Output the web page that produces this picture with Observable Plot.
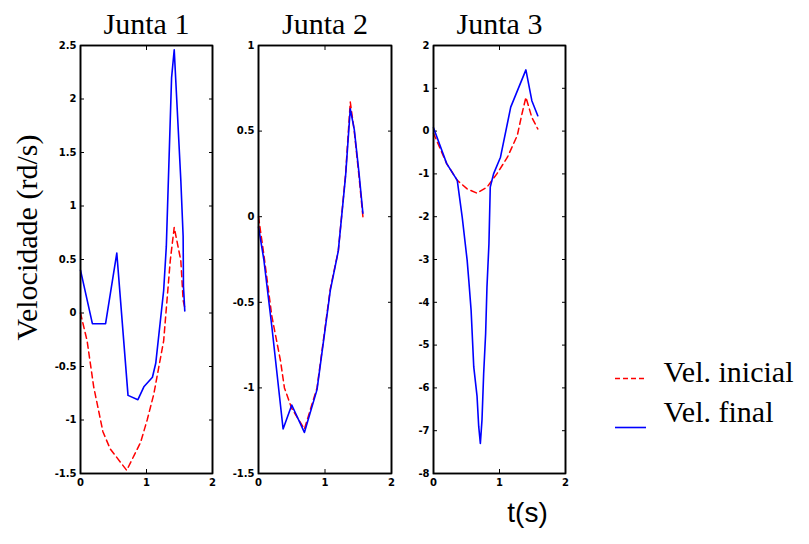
<!DOCTYPE html>
<html><head><meta charset="utf-8">
<script src="https://cdn.jsdelivr.net/npm/d3@7"></script>
<script src="https://cdn.jsdelivr.net/npm/@observablehq/plot@0.6"></script>
<style>
body{margin:0;background:#fff;}
#wrap{width:809px;height:544px;overflow:hidden;background:#fff;}
</style></head><body>
<div id="wrap"></div>
<script>
// Junta 1
const t1Init  = [0, 0.10, 0.20, 0.34, 0.45, 0.70, 0.91, 1.01, 1.11, 1.26, 1.36, 1.42, 1.52, 1.555, 1.58];
const v1Init  = [0.0, -0.26, -0.69, -1.11, -1.27, -1.47, -1.21, -1.00, -0.76, -0.26, 0.49, 0.80, 0.49, 0.12, 0.05];
const t1Final = [0, 0.18, 0.38, 0.55, 0.72, 0.87, 0.96, 1.09, 1.14, 1.26, 1.30, 1.38, 1.42, 1.52, 1.555, 1.56, 1.58];
const v1Final = [0.40, -0.10, -0.10, 0.56, -0.77, -0.81, -0.69, -0.60, -0.47, 0.21, 0.62, 2.20, 2.46, 1.24, 0.72, 0.25, 0.02];
// Junta 2
const t2Init  = [0, 0.08, 0.20, 0.33, 0.39, 0.50, 0.69, 0.88, 1.08, 1.20, 1.31, 1.38, 1.44, 1.51, 1.57];
const v2Init  = [0.0, -0.22, -0.58, -0.84, -1.00, -1.12, -1.24, -1.00, -0.42, -0.20, 0.25, 0.67, 0.50, 0.24, 0.00];
const t2Final = [0, 0.08, 0.20, 0.37, 0.50, 0.69, 0.88, 1.08, 1.20, 1.31, 1.38, 1.44, 1.51, 1.57];
const v2Final = [-0.06, -0.25, -0.64, -1.24, -1.10, -1.26, -1.01, -0.43, -0.20, 0.24, 0.63, 0.51, 0.26, 0.02];
// Junta 3
const t3Init  = [0, 0.20, 0.36, 0.51, 0.66, 0.81, 0.96, 1.12, 1.27, 1.34, 1.40, 1.49, 1.58];
const v3Init  = [-0.05, -0.76, -1.15, -1.35, -1.45, -1.31, -1.00, -0.61, -0.10, 0.40, 0.79, 0.32, 0.05];
const t3Final = [0, 0.20, 0.36, 0.435, 0.51, 0.535, 0.57, 0.61, 0.66, 0.685, 0.71, 0.735, 0.76, 0.79, 0.81, 0.84, 0.86, 0.91, 1.015, 1.17, 1.40, 1.49, 1.58];
const v3Final = [0.08, -0.76, -1.15, -2.01, -3.02, -3.49, -4.19, -5.51, -6.20, -6.90, -7.30, -6.74, -5.67, -4.73, -3.65, -2.63, -1.31, -1.00, -0.61, 0.56, 1.43, 0.71, 0.36];

const titles = ["Junta 1", "Junta 2", "Junta 3"];
const xDomain = [0, 2];
const xTicks = [0, 1, 2];
const yTicks1 = [-1.5, -1, -0.5, 0, 0.5, 1, 1.5, 2, 2.5];
const yTicks2 = [-1.5, -1, -0.5, 0, 0.5, 1];
const yTicks3 = [-8, -7, -6, -5, -4, -3, -2, -1, 0, 1, 2];
const seriesNames = ["Vel. inicial", "Vel. final"];
const yLabel = "Velocidade (rd/s)";
const xLabel = "t(s)";

const RED = "#ff0000", BLUE = "#0000ff";
const SERIF = "Liberation Serif";
const zip = (ts, vs) => ts.map((t, i) => ({t, v: vs[i]}));

// one root SVG; each Plot chart's content is moved into a translated group
const NS = "http://www.w3.org/2000/svg";
const root = document.createElementNS(NS, "svg");
root.setAttribute("width", 809);
root.setAttribute("height", 544);
root.setAttribute("viewBox", "0 0 809 544");
root.style.display = "block";
root.style.background = "#fff";
document.getElementById("wrap").appendChild(root);
function absorb(chart, left, top) {
  const g = document.createElementNS(NS, "g");
  g.setAttribute("transform", `translate(${left},${top})`);
  for (const a of ["class", "fill", "font-family", "font-size", "text-anchor", "style"]) {
    if (chart.hasAttribute(a)) g.setAttribute(a, chart.getAttribute(a));
  }
  g.style.color = "#000";
  while (chart.firstChild) g.appendChild(chart.firstChild);
  root.appendChild(g);
}

// shared axis labels
absorb(Plot.plot({
  width: 809, height: 544, margin: 0,
  style: {background: "transparent", color: "#000", fontFamily: SERIF},
  marks: [
    Plot.text([yLabel], {frameAnchor: "left", dx: 27, dy: -35, rotate: -90, textAnchor: "middle", fontSize: 30, fontFamily: SERIF, fill: "currentColor"}),
    Plot.text([xLabel], {frameAnchor: "bottom-left", dx: 527, dy: -23, textAnchor: "middle", fontSize: 28, fontFamily: "Liberation Sans", fill: "currentColor"})
  ]
}), 0, 0);

const panels = [
  {title: titles[0], init: zip(t1Init, v1Init), fin: zip(t1Final, v1Final), yd: [-1.5, 2.5], yt: yTicks1, left: 0,   width: 230, ml: 80, mr: 18},
  {title: titles[1], init: zip(t2Init, v2Init), fin: zip(t2Final, v2Final), yd: [-1.5, 1],   yt: yTicks2, left: 230, width: 170, ml: 28, mr: 9},
  {title: titles[2], init: zip(t3Init, v3Init), fin: zip(t3Final, v3Final), yd: [-8, 2],     yt: yTicks3, left: 400, width: 175, ml: 33, mr: 10}
];
const fmt = d => String(d);
for (const p of panels) {
  const [x0, x1] = xDomain, [y0, y1] = p.yd;
  const box = [{t: x0, v: y0}, {t: x1, v: y0}, {t: x1, v: y1}, {t: x0, v: y1}, {t: x0, v: y0}];
  const chart = Plot.plot({
    width: p.width, height: 544,
    marginLeft: p.ml, marginRight: p.mr, marginTop: 45, marginBottom: 71,
    x: {domain: xDomain},
    y: {domain: p.yd},
    style: {fontFamily: "DejaVu Sans", fontSize: "10px", fontWeight: "bold", background: "transparent", color: "#000"},
    marks: [
      Plot.axisY({ticks: p.yt, tickSize: 0, tickPadding: 4, tickFormat: fmt, label: null}),
      Plot.axisY({ticks: p.yt, tickSize: -4, tickFormat: () => "", label: null}),
      Plot.axisY({anchor: "right", ticks: p.yt, tickSize: -4, tickFormat: () => "", label: null}),
      Plot.axisX({ticks: xTicks, tickSize: 0, tickPadding: 5, tickFormat: fmt, label: null}),
      Plot.axisX({ticks: [1], tickSize: -4, tickFormat: () => "", label: null}),
      Plot.axisX({anchor: "top", ticks: [1], tickSize: -4, tickFormat: () => "", label: null}),
      Plot.line(p.init, {x: "t", y: "v", stroke: RED, strokeWidth: 1.5, strokeDasharray: "6,4"}),
      Plot.line(p.fin, {x: "t", y: "v", stroke: BLUE, strokeWidth: 1.6}),
      Plot.line(box, {x: "t", y: "v", stroke: "currentColor", strokeWidth: 1.6, strokeLinejoin: "miter", strokeLinecap: "square"}),
      Plot.frame({strokeWidth: 1.5}),
      Plot.text([p.title], {frameAnchor: "top", dy: -33, fontSize: 30, fontFamily: SERIF, fontWeight: "normal", fill: "currentColor"})
    ]
  });
  absorb(chart, p.left, 0);
}

// legend
const legendData = seriesNames.map((s, k) => ({s, k}));
absorb(Plot.plot({
  width: 198, height: 80, margin: 0,
  x: {domain: [0, 1], axis: null},
  y: {type: "point", domain: seriesNames, range: [20, 60], padding: 0, axis: null},
  style: {background: "transparent", color: "#000", fontFamily: SERIF},
  marks: [
    Plot.ruleY(legendData.filter(d => d.k === 0), {y: "s", dy: 6, insetLeft: 4, insetRight: 163, stroke: RED, strokeWidth: 1.5, strokeDasharray: "5,3"}),
    Plot.ruleY(legendData.filter(d => d.k === 1), {y: "s", dy: 15, insetLeft: 4, insetRight: 163, stroke: BLUE, strokeWidth: 1.6}),
    Plot.text(legendData, {y: "s", text: "s", frameAnchor: "left", dx: 52, textAnchor: "start", fontSize: 30, fontFamily: SERIF, fill: "currentColor"})
  ]
}), 611, 352);
</script>
</body></html>
